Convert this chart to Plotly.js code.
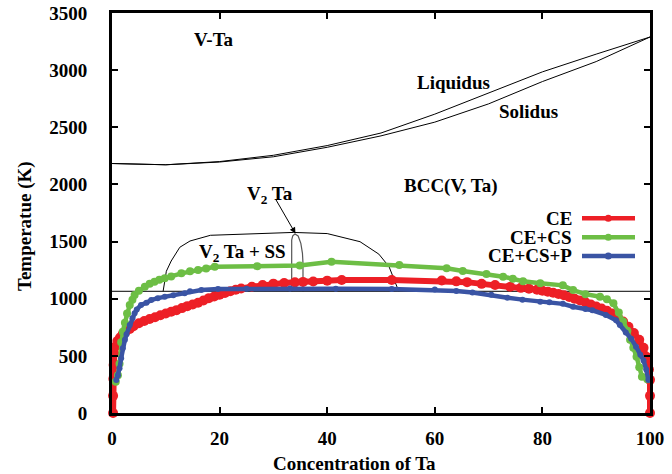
<!DOCTYPE html>
<html>
<head>
<meta charset="utf-8">
<script src="https://cdn.plot.ly/plotly-3.0.1.min.js"></script>
<style>html,body{margin:0;padding:0;background:#fff;}#chart{width:672px;height:474px;}</style>
</head>
<body>
<div id="chart"></div>
<script>
// ---- Data ----
// Phase diagram boundaries (x: at.% Ta, y: K)
const liqX = [0, 10, 20, 30, 40, 50, 60, 70, 80, 90, 100];
const liqY = [2183, 2172, 2200, 2255, 2340, 2450, 2615, 2800, 2985, 3140, 3290];
const solX = [0, 10, 20, 30, 40, 50, 60, 70, 80, 90, 100];
const solY = [2183, 2172, 2196, 2242, 2325, 2425, 2545, 2705, 2900, 3075, 3290];
const domeX = [9.5, 10.1, 11.0, 12.6, 14.5, 18.3, 33.7, 40.0, 46.1, 49.6, 51.5, 53.3];
const domeY = [1065, 1240, 1330, 1450, 1505, 1555, 1580, 1570, 1499, 1390, 1280, 1065];
const v2taX = [33.4, 33.4, 33.6, 34.0, 34.6, 35.1, 35.4, 35.5, 35.5];
const v2taY = [1065, 1514, 1550, 1566, 1549, 1485, 1397, 1310, 1065];
const eutX = [0, 100];
const eutY = [1065, 1065];

// Calculated order-disorder curves
const ceX = [0.2, 0.2, 0.25, 0.3, 0.4, 0.6, 1.0, 1.5, 2.0, 2.5, 3.3, 4, 5, 6, 7, 8, 9, 10, 11, 12, 13, 14, 15, 16, 17, 18, 19, 20, 21, 22, 23, 24, 26, 28, 30, 32, 34, 35.5, 37.4, 40, 42.7, 52, 61.3, 64, 66, 68.7, 71.2, 74, 76, 77.5, 79, 80, 81, 82, 83, 84, 85, 86, 87, 88, 89, 90, 91, 92, 93, 94, 95, 96, 97, 98, 98.8, 99.4, 99.8, 100, 100, 100];
const ceY = [0, 150, 300, 420, 520, 580, 630, 660, 690, 710, 735, 760, 785, 805, 822, 838, 855, 870, 886, 900, 918, 935, 950, 965, 985, 1005, 1020, 1035, 1050, 1065, 1078, 1090, 1105, 1120, 1132, 1138, 1143, 1147, 1150, 1158, 1164, 1164, 1160, 1152, 1145, 1130, 1120, 1105, 1095, 1088, 1078, 1070, 1062, 1052, 1042, 1030, 1015, 1000, 985, 968, 950, 932, 915, 895, 870, 840, 800, 755, 700, 640, 570, 490, 380, 290, 150, 0];

const cecsX = [0.7, 1.1, 1.4, 1.7, 2.0, 2.4, 2.8, 3.3, 3.8, 4.2, 5.0, 6.1, 7.0, 7.9, 8.8, 9.8, 11.0, 12.9, 14.5, 16.0, 17.5, 19.1, 27.0, 34.9, 40.8, 53.4, 62.2, 65.2, 69.6, 72.7, 74.5, 76.4, 79.6, 83.8, 85.7, 88.0, 90.7, 92.0, 93.2, 94.2, 95.0, 95.8, 96.3, 96.9, 97.5, 98.0, 98.5, 99.5, 100.4];
const cecsY = [274, 330, 430, 620, 710, 790, 870, 945, 990, 1033, 1070, 1105, 1130, 1149, 1165, 1178, 1195, 1222, 1240, 1251, 1265, 1280, 1285, 1290, 1324, 1295, 1266, 1243, 1216, 1193, 1175, 1152, 1135, 1117, 1076, 1040, 1018, 995, 960, 880, 800, 720, 640, 570, 493, 400, 318, 295, 289];

const cecspX = [0.8, 1.1, 1.4, 1.7, 2.0, 2.4, 2.7, 3.3, 3.8, 4.2, 4.6, 5.4, 6.4, 7.3, 8.5, 9.8, 11.4, 13.5, 14.5, 16.6, 19.7, 25.0, 33.1, 41.6, 52.0, 60.0, 64.0, 67.0, 70.5, 73.5, 76.3, 79.6, 81.3, 83.8, 85.7, 88.0, 89.3, 91.8, 93.7, 94.4, 95.5, 96.5, 97.4, 98.2, 98.8, 99.3, 99.7];
const cecspY = [289, 330, 391, 480, 566, 640, 690, 770, 830, 872, 905, 945, 965, 989, 1005, 1018, 1030, 1047, 1065, 1076, 1085, 1088, 1090, 1088, 1085, 1080, 1068, 1055, 1035, 1009, 992, 974, 968, 955, 930, 910, 899, 858, 811, 770, 705, 650, 580, 510, 460, 380, 289];

const seriesNames = ['CE', 'CE+CS', 'CE+CS+P'];
const seriesColors = ['#ED1F26', '#6DBE45', '#3A54A4'];
const xTicks = [0, 20, 40, 60, 80, 100];
const yTicks = [0, 500, 1000, 1500, 2000, 2500, 3000, 3500];

// ---- Styling ----
const FONT = 'Liberation Serif, Times New Roman, serif';
const f = (s) => ({family: FONT, size: s, color: '#000', weight: 'bold'});
const L = 112, R = 22, T = 13, B = 61, W = 672, H = 474;
const PW = W - L - R, PH = H - T - B;
const px = (p) => (p - L) / PW;          // pixel -> paper x
const py = (p) => (H - B - p) / PH;      // pixel -> paper y

const blk = (x, y, c, w) => ({x: x, y: y, mode: 'lines', line: {color: c || '#000', width: w || 1}, hoverinfo: 'skip', showlegend: false});

const traces = [
  blk(liqX, liqY), blk(solX, solY), blk(domeX, domeY), blk(v2taX, v2taY, '#555', 1.2), blk(eutX, eutY),
  {x: ceX, y: ceY, name: seriesNames[0], mode: 'lines+markers', line: {color: seriesColors[0], width: 6}, marker: {color: seriesColors[0], size: 10}, showlegend: false, cliponaxis: false},
  {x: cecsX, y: cecsY, name: seriesNames[1], mode: 'lines+markers', line: {color: seriesColors[1], width: 4.5}, marker: {color: seriesColors[1], size: 8}, showlegend: false, cliponaxis: false},
  {x: cecspX, y: cecspY, name: seriesNames[2], mode: 'lines+markers', line: {color: seriesColors[2], width: 4.5}, marker: {color: seriesColors[2], size: 6}, showlegend: false, cliponaxis: false}
];

const ann = (x, y, t) => ({x: x, y: y, xref: 'x', yref: 'y', text: t, showarrow: false, font: f(19), xanchor: 'center', yanchor: 'middle'});
const annotations = [
  ann(19.0, 3271, 'V-Ta'),
  ann(63.4, 2896, 'Liquidus'),
  ann(77.5, 2636, 'Solidus'),
  ann(63.1, 1986, 'BCC(V, Ta)'),
  ann(29.4, 1910, 'V<sub>2</sub> Ta'),
  ann(24.2, 1400, 'V<sub>2</sub> Ta + SS'),
  {x: 34.1, y: 1570, xref: 'x', yref: 'y', ax: 30.3, ay: 1880, axref: 'x', ayref: 'y', text: '', showarrow: true, arrowhead: 2, arrowsize: 1.2, arrowwidth: 1, arrowcolor: '#000'},
  {x: px(25), y: py(226), xref: 'paper', yref: 'paper', text: 'Temperatue (K)', textangle: -90, showarrow: false, font: f(19), xanchor: 'center', yanchor: 'middle'},
  {x: px(354.7), y: py(463), xref: 'paper', yref: 'paper', text: 'Concentration of Ta', showarrow: false, font: f(19), xanchor: 'center', yanchor: 'middle'}
];
const shapes = [];
const legY = [218.3, 237.3, 256];
seriesNames.forEach((n, i) => {
  annotations.push({x: px(574), y: py(legY[i]), xref: 'paper', yref: 'paper', text: n, showarrow: false, font: f(19), xanchor: 'right', yanchor: 'middle'});
  shapes.push({type: 'line', xref: 'paper', yref: 'paper', x0: px(582), x1: px(635), y0: py(legY[i]), y1: py(legY[i]), line: {color: seriesColors[i], width: 4.5}});
  shapes.push({type: 'circle', xref: 'paper', yref: 'paper', x0: px(604.8), x1: px(611.8), y0: py(legY[i] + 3.5), y1: py(legY[i] - 3.5), fillcolor: seriesColors[i], line: {color: seriesColors[i], width: 0}});
});

const axisCommon = {showline: true, linecolor: '#000', linewidth: 3, mirror: 'ticks', ticks: 'inside', ticklen: 6, tickwidth: 2, tickcolor: '#000', showgrid: false, zeroline: false, tickfont: f(19)};

const layout = {
  width: W, height: H,
  margin: {l: L, r: R, t: T, b: B, pad: 0},
  paper_bgcolor: '#fff', plot_bgcolor: '#fff',
  showlegend: false,
  xaxis: Object.assign({}, axisCommon, {range: [0, 100], tickvals: xTicks, ticktext: xTicks.map(String), ticklabelstandoff: 6}),
  yaxis: Object.assign({}, axisCommon, {range: [0, 3500], tickvals: yTicks, ticktext: yTicks.map(String), ticklabelstandoff: 18}),
  annotations: annotations,
  shapes: shapes
};

Plotly.newPlot('chart', traces, layout, {staticPlot: true, displayModeBar: false});
</script>
</body>
</html>
